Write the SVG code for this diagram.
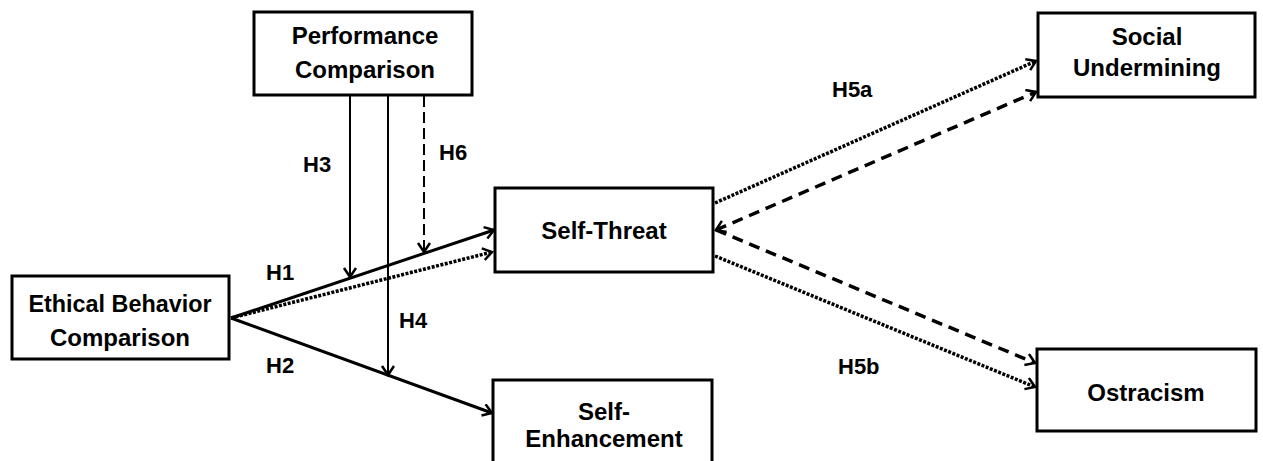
<svg xmlns="http://www.w3.org/2000/svg" width="1263" height="461" viewBox="0 0 1263 461">
<style>
.box{fill:#fff;stroke:#000;stroke-width:3}
.t{font-family:"Liberation Sans",Arial,sans-serif;font-weight:bold;font-size:24px;fill:#000;text-anchor:middle}
.h{font-family:"Liberation Sans",Arial,sans-serif;font-weight:bold;font-size:22px;fill:#000}
.c{fill:none;stroke:#000}
.solid{stroke-width:3}
.thin{stroke-width:2}
.dot{stroke-width:3.5;stroke-dasharray:3 1.5}
.dash{stroke-width:3.5;stroke-dasharray:11 7}
.vdash{stroke-width:2;stroke-dasharray:11 5}
</style>
<defs>
<marker id="ah" markerUnits="userSpaceOnUse" markerWidth="16" markerHeight="16" refX="11" refY="7" orient="auto-start-reverse" viewBox="0 0 16 16">
<path d="M2,1 L11,7 L2,13" fill="none" stroke="#000" stroke-width="2.5"/>
</marker>
</defs>
<rect width="1263" height="461" fill="#fff"/>
<g id="connectors">
<line class="c solid" x1="231" y1="318" x2="494" y2="230" marker-end="url(#ah)"/>
<line class="c dot" x1="231" y1="318" x2="492" y2="252" marker-end="url(#ah)"/>
<line class="c solid" x1="231" y1="318" x2="492" y2="413" marker-end="url(#ah)"/>
<line class="c thin" x1="350" y1="96" x2="350" y2="277" marker-end="url(#ah)"/>
<line class="c thin" x1="388" y1="96" x2="388" y2="375" marker-end="url(#ah)"/>
<line class="c vdash" x1="424" y1="96" x2="424" y2="252" marker-end="url(#ah)"/>
<line class="c dot" x1="715" y1="203" x2="1036" y2="61" marker-end="url(#ah)"/>
<line class="c dash" x1="716" y1="230" x2="1036" y2="92" marker-start="url(#ah)" marker-end="url(#ah)"/>
<line class="c dash" x1="716" y1="230" x2="1035" y2="363" marker-end="url(#ah)"/>
<line class="c dot" x1="715" y1="256" x2="1035" y2="387" marker-end="url(#ah)"/>
</g>
<g id="performance-comparison">
<rect class="box" x="254" y="12" width="218" height="83"/>
<text class="t" x="365" y="44">Performance</text>
<text class="t" x="365" y="78">Comparison</text>
</g>
<g id="ethical-behavior-comparison">
<rect class="box" x="12" y="276" width="217" height="83"/>
<text class="t" x="120" y="312" textLength="183" lengthAdjust="spacingAndGlyphs">Ethical Behavior</text>
<text class="t" x="120" y="346">Comparison</text>
</g>
<g id="self-threat">
<rect class="box" x="495" y="188" width="218" height="84"/>
<text class="t" x="604" y="239">Self-Threat</text>
</g>
<g id="self-enhancement">
<rect class="box" x="493" y="380" width="219" height="95"/>
<text class="t" x="604" y="420">Self-</text>
<text class="t" x="604" y="447">Enhancement</text>
</g>
<g id="social-undermining">
<rect class="box" x="1038" y="13" width="217" height="84"/>
<text class="t" x="1147" y="45">Social</text>
<text class="t" x="1147" y="76">Undermining</text>
</g>
<g id="ostracism">
<rect class="box" x="1037" y="349" width="219" height="82"/>
<text class="t" x="1146" y="401">Ostracism</text>
</g>
<g id="labels">
<text class="h" x="266" y="280">H1</text>
<text class="h" x="266" y="373">H2</text>
<text class="h" x="303" y="172">H3</text>
<text class="h" x="399" y="328">H4</text>
<text class="h" x="439" y="160">H6</text>
<text class="h" x="832" y="97">H5a</text>
<text class="h" x="838" y="374">H5b</text>
</g>
</svg>
